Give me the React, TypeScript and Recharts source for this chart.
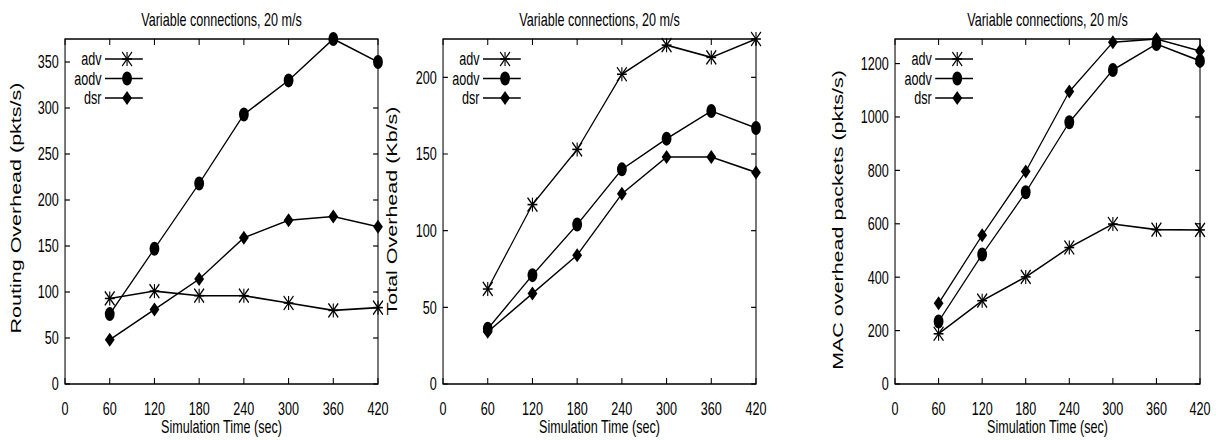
import React from 'react';
import { LineChart, Line, XAxis, YAxis, ReferenceArea, Legend } from 'recharts';

// simulation times (sec)
const times = [60, 120, 180, 240, 300, 360, 420];
const xTicks = [0, 60, 120, 180, 240, 300, 360, 420];

// routing overhead (pkts/s)
const routingAdv = [93, 101, 96, 96, 88, 80, 83];
const routingAodv = [76, 147, 218, 293, 330, 375, 350];
const routingDsr = [48, 81, 114, 159, 178, 182, 171];
const routingTicks = [0, 50, 100, 150, 200, 250, 300, 350];

// total overhead (Kb/s)
const totalAdv = [62, 117, 153, 202, 221, 213, 225];
const totalAodv = [36, 71, 104, 140, 160, 178, 167];
const totalDsr = [34, 59, 84, 124, 148, 148, 138];
const totalTicks = [0, 50, 100, 150, 200];

// MAC overhead packets (pkts/s)
const macAdv = [188, 312, 401, 511, 599, 578, 577];
const macAodv = [234, 485, 718, 980, 1176, 1273, 1210];
const macDsr = [302, 557, 796, 1095, 1280, 1292, 1247];
const macTicks = [0, 200, 400, 600, 800, 1000, 1200];

const title = 'Variable connections, 20 m/s';
const xLabel = 'Simulation Time (sec)';

// the original figure is squashed horizontally, so draw wide and scale down
const SX = 0.7;
const H = 440;
const TOP = 39;
const BOTTOM = 384;
const YW = 60;
const XH = 40;
const FONT = '"Liberation Sans", Arial, Helvetica, sans-serif';

type PanelCfg = {
  left: number;
  width: number;
  plotLeft: number;
  plotRight: number;
  yLabel: string;
  labelX: number;
  labelY: number;
  ticks: number[];
  adv: number[];
  aodv: number[];
  dsr: number[];
};

const panels: PanelCfg[] = [
  { left: 0, width: 580, plotLeft: 92.9, plotRight: 540, yLabel: 'Routing Overhead (pkts/s)', labelX: 29.6, labelY: 208, ticks: routingTicks, adv: routingAdv, aodv: routingAodv, dsr: routingDsr },
  { left: 545, width: 580, plotLeft: 632.9, plotRight: 1080, yLabel: 'Total Overhead (Kb/s)', labelX: 566.7, labelY: 211, ticks: totalTicks, adv: totalAdv, aodv: totalAodv, dsr: totalDsr },
  { left: 1100, width: 637, plotLeft: 1278.6, plotRight: 1714.3, yLabel: 'MAC overhead packets (pkts/s)', labelX: 1204.3, labelY: 220, ticks: macTicks, adv: macAdv, aodv: macAodv, dsr: macDsr },
];

function Marker({ kind, cx, cy }: { kind: string; cx: number; cy: number }) {
  if (kind === 'adv') {
    const r = 7;
    return (
      <g stroke="#000" strokeWidth={1.6}>
        <line x1={cx - r} y1={cy} x2={cx + r} y2={cy} />
        <line x1={cx} y1={cy - r} x2={cx} y2={cy + r} />
        <line x1={cx - r} y1={cy - r} x2={cx + r} y2={cy + r} />
        <line x1={cx - r} y1={cy + r} x2={cx + r} y2={cy - r} />
      </g>
    );
  }
  if (kind === 'aodv') return <circle cx={cx} cy={cy} r={7} fill="#000" />;
  const d = 7;
  return <polygon points={`${cx},${cy - d} ${cx + d},${cy} ${cx},${cy + d} ${cx - d},${cy}`} fill="#000" />;
}

function LegendBox({ payload }: any) {
  return (
    <svg width={130} height={80} style={{ overflow: 'visible' }}>
      {(payload || []).map((item: any, i: number) => {
        const y = 20 + i * 19.5;
        return (
          <g key={item.value}>
            <text x={52} y={y} dy="0.35em" textAnchor="end" fontFamily={FONT} fontSize={18} fill="#000">
              {item.value}
            </text>
            <line x1={57} y1={y} x2={111} y2={y} stroke="#000" strokeWidth={1.6} />
            <Marker kind={item.value} cx={88.5} cy={y} />
          </g>
        );
      })}
    </svg>
  );
}

function Panel({ cfg }: { cfg: PanelCfg }) {
  const data = times.map((t, i) => ({ t, adv: cfg.adv[i], aodv: cfg.aodv[i], dsr: cfg.dsr[i] }));
  const yMax = Math.max(...cfg.adv, ...cfg.aodv, ...cfg.dsr);
  const pl = cfg.plotLeft - cfg.left;
  const pr = cfg.plotRight - cfg.left;
  const cx = (pl + pr) / 2;

  const xTick = (p: any) => (
    <g>
      <line x1={p.x} y1={BOTTOM} x2={p.x} y2={BOTTOM - 6} stroke="#000" strokeWidth={1.5} />
      <line x1={p.x} y1={TOP} x2={p.x} y2={TOP + 6} stroke="#000" strokeWidth={1.5} />
      <text x={p.x} y={415} textAnchor="middle" fontFamily={FONT} fontSize={18} fill="#000">
        {p.payload.value}
      </text>
    </g>
  );

  const yTick = (p: any) => (
    <g>
      <line x1={pl} y1={p.y} x2={pl + 7} y2={p.y} stroke="#000" strokeWidth={1.2} />
      <line x1={pr} y1={p.y} x2={pr - 7} y2={p.y} stroke="#000" strokeWidth={1.2} />
      <text x={pl - 9} y={p.y} dy="0.36em" textAnchor="end" fontFamily={FONT} fontSize={18} fill="#000">
        {p.payload.value}
      </text>
    </g>
  );

  const lx = cfg.labelX - cfg.left;

  return (
    <div style={{ position: 'absolute', left: cfg.left, top: 0 }}>
      <LineChart
        width={cfg.width}
        height={H}
        data={data}
        margin={{ top: TOP, left: pl - YW, right: cfg.width - pr, bottom: H - BOTTOM - XH }}
      >
        <XAxis dataKey="t" type="number" domain={[0, 420]} ticks={xTicks} interval={0} height={XH} tickLine={false} axisLine={false} tick={xTick} />
        <YAxis type="number" domain={[0, yMax]} ticks={cfg.ticks} interval={0} width={YW} tickLine={false} axisLine={false} tick={yTick} />
        <ReferenceArea x1={0} x2={420} y1={0} y2={yMax} fill="none" fillOpacity={0} stroke="#000" strokeWidth={1.5} strokeOpacity={1} />
        {['adv', 'aodv', 'dsr'].map(k => (
          <Line
            key={k}
            dataKey={k}
            name={k}
            type="linear"
            stroke="#000"
            strokeWidth={1.6}
            isAnimationActive={false}
            activeDot={false}
            dot={(p: any) => <Marker key={`${k}-${p.index}`} kind={k} cx={p.cx} cy={p.cy} />}
          />
        ))}
        <Legend
          layout="vertical"
          align="center"
          verticalAlign="middle"
          wrapperStyle={{ left: pl, top: TOP, width: 130, height: 80 }}
          content={(p: any) => <LegendBox payload={p.payload} />}
        />
        <text x={cx} y={26} textAnchor="middle" fontFamily={FONT} fontSize={18} fill="#000">{title}</text>
        <text x={cx} y={433} textAnchor="middle" fontFamily={FONT} fontSize={18} fill="#000">{xLabel}</text>
        <text
          transform={`translate(${lx},${cfg.labelY}) rotate(-90)`}
          textAnchor="middle"
          fontFamily={FONT}
          fontSize={21.5}
          fill="#000"
        >
          {cfg.yLabel}
        </text>
      </LineChart>
    </div>
  );
}

export default function App() {
  return (
    <div style={{ position: 'absolute', left: 0, top: 0, width: 1216, height: H, overflow: 'hidden', background: '#fff' }}>
      <div style={{ position: 'relative', width: 1216 / SX, height: H, transform: `scaleX(${SX})`, transformOrigin: '0 0' }}>
        {panels.map((cfg, i) => (
          <Panel key={i} cfg={cfg} />
        ))}
      </div>
    </div>
  );
}
